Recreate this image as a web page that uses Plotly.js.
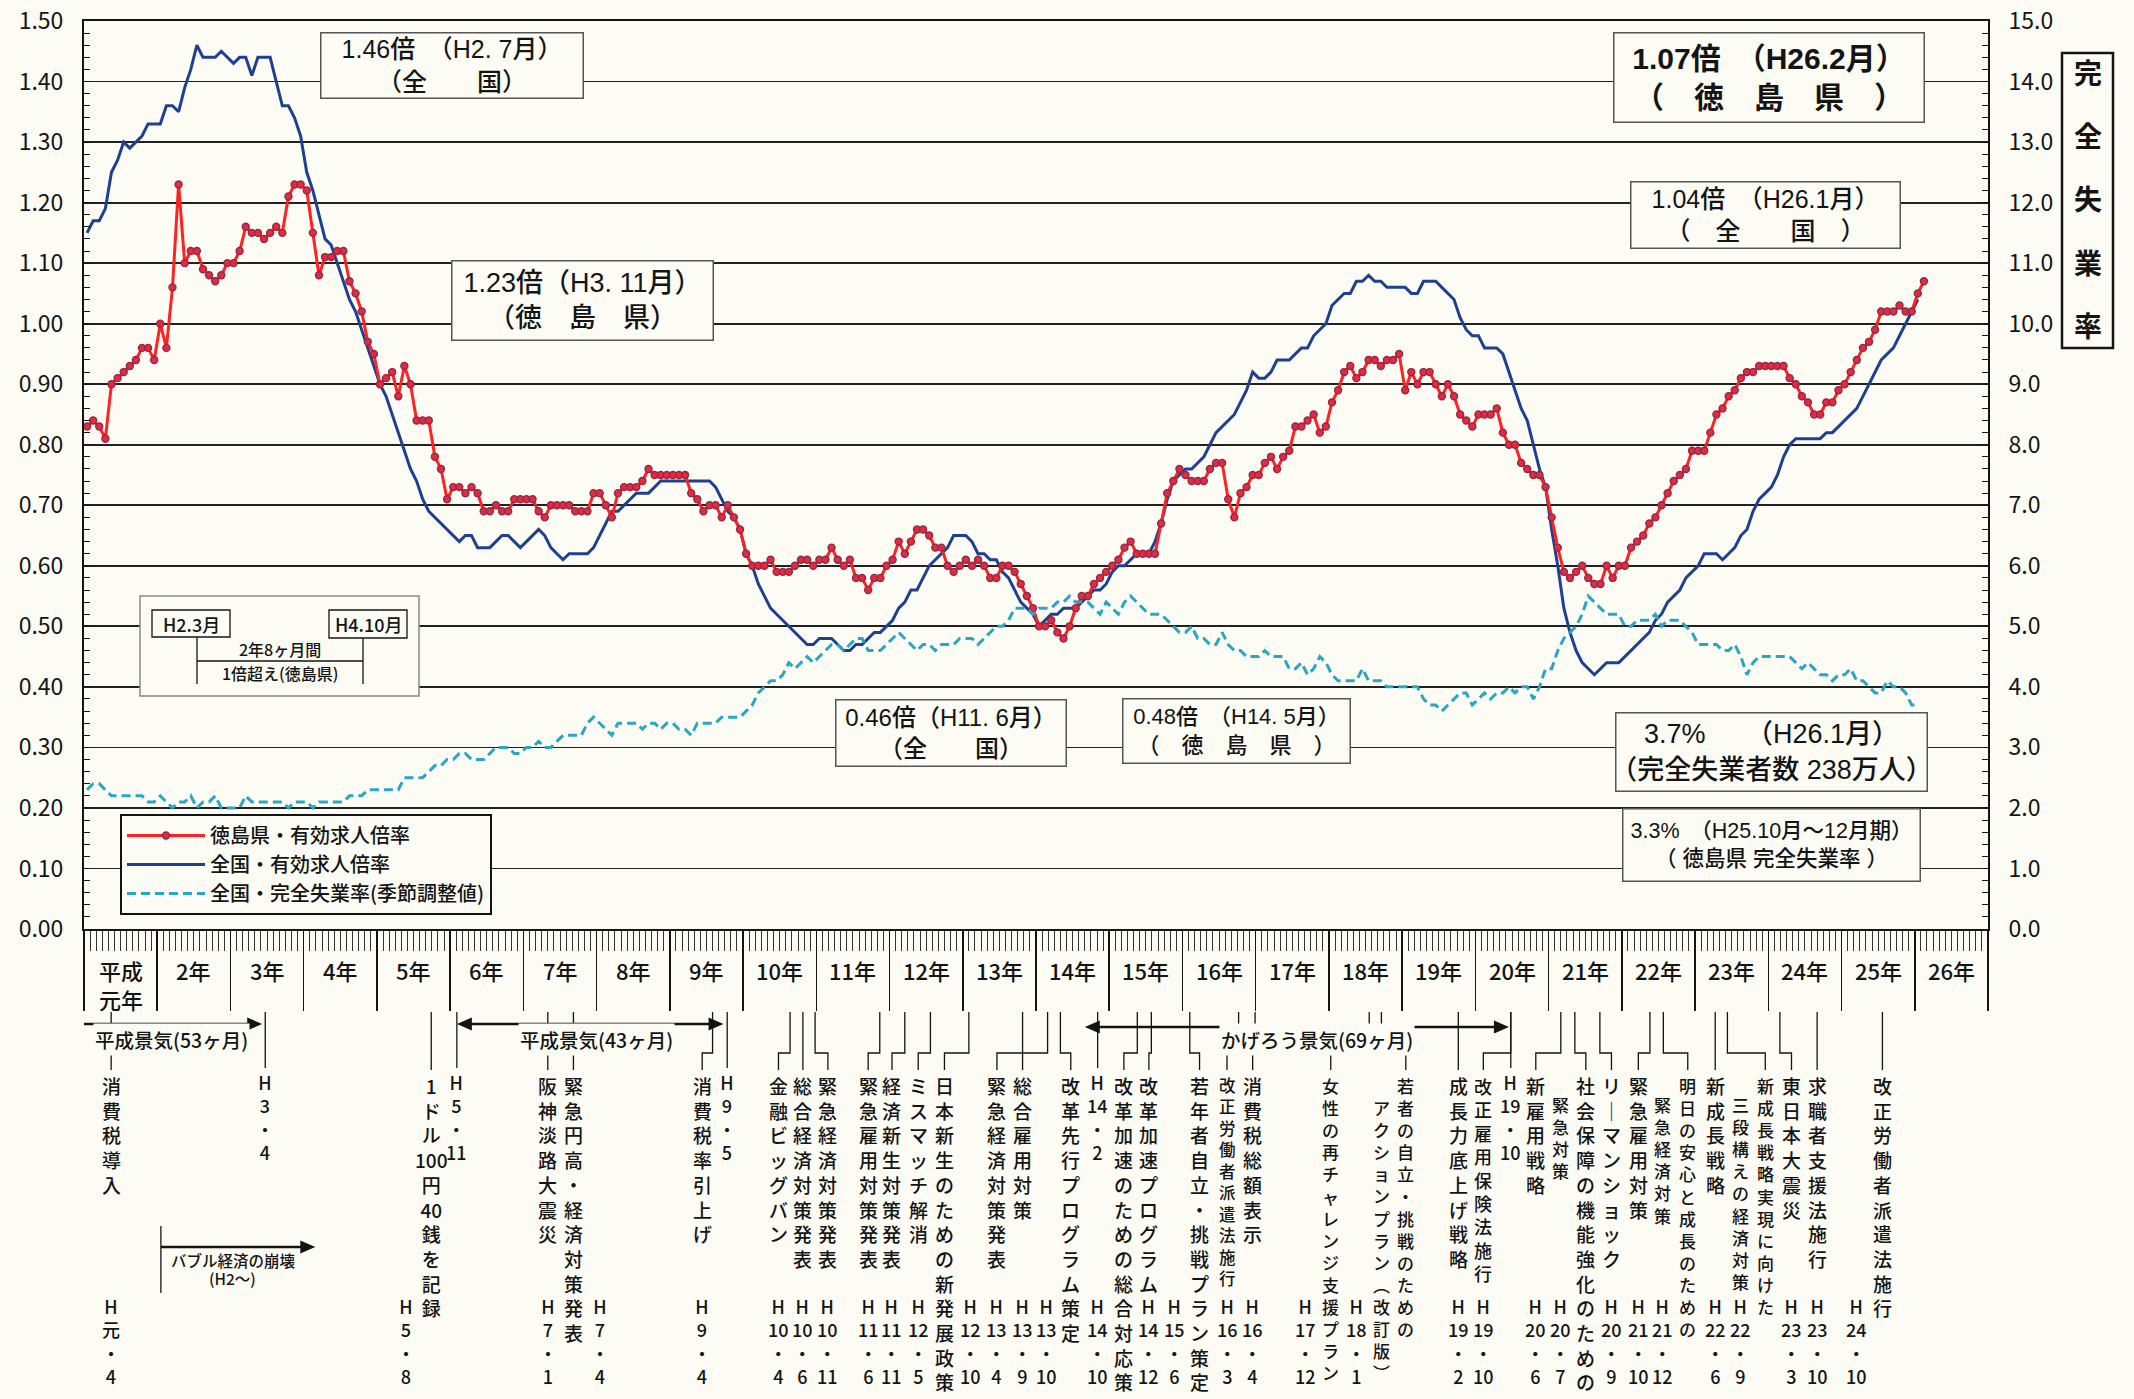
<!DOCTYPE html>
<html><head><meta charset="utf-8">
<script src="https://cdn.plot.ly/plotly-3.0.1.min.js"></script>
<style>html,body{margin:0;padding:0;background:#fcfcf4;}#chart{width:2134px;height:1399px;}</style>
</head><body><div id="chart"></div>
<script>
// ================= DATA =================
const yearLabels = ['平成<br>元年','2年','3年','4年','5年','6年','7年','8年','9年','10年','11年','12年','13年',
  '14年','15年','16年','17年','18年','19年','20年','21年','22年','23年','24年','25年','26年'];

const seriesNames = ['徳島県・有効求人倍率','全国・有効求人倍率','全国・完全失業率(季節調整値)'];

// 徳島県・有効求人倍率 (H1.1 - H26.2), monthly
const tokushimaRatio = [
  0.83,0.84,0.83,0.81,0.90,0.91,0.92,0.93,0.94,0.96,0.96,0.94, // H1
  1.00,0.96,1.06,1.23,1.10,1.12,1.12,1.09,1.08,1.07,1.08,1.10, // H2
  1.10,1.12,1.16,1.15,1.15,1.14,1.15,1.16,1.15,1.21,1.23,1.23, // H3
  1.22,1.15,1.08,1.11,1.11,1.12,1.12,1.07,1.05,1.02,0.97,0.95, // H4
  0.90,0.91,0.92,0.88,0.93,0.90,0.84,0.84,0.84,0.78,0.76,0.71, // H5
  0.73,0.73,0.72,0.73,0.72,0.69,0.69,0.70,0.69,0.69,0.71,0.71, // H6
  0.71,0.71,0.69,0.68,0.70,0.70,0.70,0.70,0.69,0.69,0.69,0.72, // H7
  0.72,0.70,0.68,0.72,0.73,0.73,0.73,0.74,0.76,0.75,0.75,0.75, // H8
  0.75,0.75,0.75,0.72,0.71,0.69,0.70,0.70,0.68,0.70,0.68,0.66, // H9
  0.62,0.60,0.60,0.60,0.61,0.59,0.59,0.59,0.60,0.61,0.61,0.60, // H10
  0.61,0.61,0.63,0.61,0.60,0.61,0.58,0.58,0.56,0.58,0.58,0.60, // H11
  0.61,0.64,0.62,0.64,0.66,0.66,0.65,0.63,0.63,0.60,0.59,0.60, // H12
  0.61,0.60,0.61,0.60,0.58,0.58,0.60,0.60,0.59,0.57,0.55,0.53, // H13
  0.50,0.50,0.51,0.49,0.48,0.50,0.53,0.55,0.55,0.57,0.58,0.59, // H14
  0.60,0.61,0.63,0.64,0.62,0.62,0.62,0.62,0.67,0.72,0.74,0.76, // H15
  0.75,0.74,0.74,0.74,0.76,0.77,0.77,0.71,0.68,0.72,0.73,0.75, // H16
  0.75,0.77,0.78,0.76,0.78,0.79,0.83,0.83,0.84,0.85,0.82,0.83, // H17
  0.87,0.89,0.92,0.93,0.91,0.92,0.94,0.94,0.93,0.94,0.94,0.95, // H18
  0.89,0.92,0.90,0.92,0.92,0.90,0.88,0.90,0.88,0.85,0.84,0.83, // H19
  0.85,0.85,0.85,0.86,0.82,0.80,0.80,0.77,0.76,0.75,0.75,0.73, // H20
  0.68,0.63,0.59,0.58,0.59,0.60,0.58,0.57,0.57,0.60,0.58,0.60, // H21
  0.60,0.63,0.64,0.65,0.67,0.68,0.70,0.72,0.74,0.75,0.76,0.79, // H22
  0.79,0.79,0.82,0.85,0.86,0.88,0.89,0.91,0.92,0.92,0.93,0.93, // H23
  0.93,0.93,0.93,0.91,0.90,0.88,0.87,0.85,0.85,0.87,0.87,0.89, // H24
  0.90,0.92,0.94,0.96,0.97,0.99,1.02,1.02,1.02,1.03,1.02,1.02, // H25
  1.05,1.07                                                    // H26
];

// 全国・有効求人倍率 (H1.1 - H26.1)
const nationalRatio = [
  1.15,1.17,1.17,1.19,1.25,1.27,1.30,1.29,1.30,1.31,1.33,1.33, // H1
  1.33,1.36,1.36,1.35,1.39,1.42,1.46,1.44,1.44,1.44,1.45,1.44, // H2
  1.43,1.44,1.44,1.41,1.44,1.44,1.44,1.40,1.36,1.36,1.34,1.31, // H3
  1.25,1.22,1.18,1.14,1.13,1.10,1.07,1.04,1.02,0.99,0.96,0.93, // H4
  0.90,0.88,0.85,0.82,0.79,0.76,0.74,0.71,0.69,0.68,0.67,0.66, // H5
  0.65,0.64,0.65,0.65,0.63,0.63,0.63,0.64,0.65,0.65,0.64,0.63, // H6
  0.64,0.65,0.66,0.65,0.63,0.62,0.61,0.62,0.62,0.62,0.62,0.63, // H7
  0.65,0.67,0.69,0.69,0.70,0.71,0.72,0.72,0.72,0.73,0.74,0.74, // H8
  0.74,0.74,0.74,0.74,0.74,0.74,0.74,0.73,0.71,0.69,0.68,0.66, // H9
  0.62,0.60,0.57,0.55,0.53,0.52,0.51,0.50,0.49,0.48,0.47,0.47, // H10
  0.48,0.48,0.48,0.47,0.46,0.46,0.47,0.47,0.48,0.49,0.49,0.50, // H11
  0.51,0.53,0.54,0.56,0.56,0.58,0.60,0.61,0.62,0.63,0.65,0.65, // H12
  0.65,0.64,0.62,0.62,0.61,0.61,0.59,0.58,0.56,0.54,0.53,0.52, // H13
  0.50,0.51,0.52,0.52,0.53,0.53,0.53,0.54,0.55,0.56,0.56,0.57, // H14
  0.59,0.60,0.60,0.61,0.62,0.62,0.62,0.64,0.67,0.71,0.74,0.75, // H15
  0.76,0.76,0.77,0.78,0.80,0.82,0.83,0.84,0.85,0.87,0.89,0.92, // H16
  0.91,0.91,0.92,0.94,0.94,0.94,0.95,0.96,0.96,0.98,0.99,1.00, // H17
  1.03,1.04,1.05,1.05,1.07,1.07,1.08,1.07,1.07,1.06,1.06,1.06, // H18
  1.06,1.05,1.05,1.07,1.07,1.07,1.06,1.05,1.04,1.01,0.99,0.98, // H19
  0.98,0.96,0.96,0.96,0.95,0.92,0.89,0.86,0.84,0.80,0.76,0.73, // H20
  0.66,0.60,0.53,0.49,0.46,0.44,0.43,0.42,0.43,0.44,0.44,0.44, // H21
  0.45,0.46,0.47,0.48,0.49,0.51,0.52,0.54,0.55,0.56,0.58,0.59, // H22
  0.60,0.62,0.62,0.62,0.61,0.62,0.63,0.65,0.66,0.69,0.71,0.72, // H23
  0.73,0.75,0.78,0.80,0.81,0.81,0.81,0.81,0.81,0.82,0.82,0.83, // H24
  0.84,0.85,0.86,0.88,0.90,0.92,0.94,0.95,0.96,0.98,1.00,1.02, // H25
  1.04                                                         // H26
];

// 全国・完全失業率（季節調整値, %）(H1.1 - H26.1)
const nationalUnemployment = [
  2.3,2.4,2.4,2.3,2.2,2.2,2.2,2.2,2.2,2.2,2.1,2.1, // H1
  2.2,2.1,2.0,2.1,2.1,2.2,2.0,2.1,2.1,2.2,2.0,2.0, // H2
  2.0,2.0,2.2,2.1,2.1,2.1,2.1,2.1,2.1,2.0,2.1,2.1, // H3
  2.1,2.0,2.1,2.1,2.1,2.1,2.1,2.2,2.2,2.2,2.3,2.3, // H4
  2.3,2.3,2.3,2.3,2.5,2.5,2.5,2.5,2.6,2.7,2.7,2.8, // H5
  2.8,2.9,2.9,2.8,2.8,2.8,2.9,3.0,3.0,3.0,2.9,2.9, // H6
  3.0,3.0,3.1,3.0,3.0,3.1,3.2,3.2,3.2,3.2,3.4,3.5, // H7
  3.4,3.3,3.2,3.4,3.4,3.4,3.4,3.3,3.4,3.4,3.3,3.4, // H8
  3.4,3.3,3.3,3.2,3.4,3.4,3.4,3.4,3.5,3.5,3.5,3.5, // H9
  3.6,3.7,3.9,4.0,4.1,4.1,4.2,4.4,4.3,4.4,4.5,4.4, // H10
  4.5,4.6,4.7,4.7,4.6,4.7,4.8,4.8,4.6,4.6,4.6,4.7, // H11
  4.8,4.9,4.8,4.7,4.6,4.7,4.7,4.6,4.7,4.7,4.7,4.8, // H12
  4.8,4.8,4.7,4.8,4.9,5.0,5.0,5.1,5.3,5.3,5.3,5.2, // H13
  5.3,5.3,5.3,5.4,5.4,5.5,5.4,5.4,5.4,5.3,5.2,5.4, // H14
  5.3,5.2,5.4,5.5,5.4,5.3,5.2,5.2,5.2,5.1,5.0,4.9, // H15
  4.9,5.0,4.8,4.8,4.7,4.7,4.9,4.7,4.6,4.6,4.5,4.5, // H16
  4.5,4.6,4.5,4.5,4.5,4.3,4.3,4.4,4.2,4.3,4.5,4.4, // H17
  4.2,4.1,4.1,4.1,4.1,4.3,4.1,4.1,4.1,4.0,4.0,4.0, // H18
  4.0,4.0,4.0,3.8,3.7,3.7,3.6,3.7,3.8,3.9,3.9,3.7, // H19
  3.8,3.9,3.8,3.9,3.9,4.0,3.9,4.0,4.0,3.8,4.0,4.3, // H20
  4.3,4.6,4.8,4.9,5.0,5.2,5.5,5.4,5.3,5.2,5.2,5.2, // H21
  5.0,5.0,5.1,5.1,5.1,5.2,5.0,5.1,5.1,5.1,5.0,4.9, // H22
  4.7,4.7,4.7,4.7,4.6,4.6,4.7,4.5,4.2,4.4,4.5,4.5, // H23
  4.5,4.5,4.5,4.5,4.4,4.3,4.4,4.3,4.2,4.2,4.1,4.2, // H24
  4.2,4.3,4.1,4.1,4.0,3.9,3.9,4.1,4.0,4.0,3.9,3.7, // H25
  3.7                                              // H26
];

const calloutTexts = [
  '1.46倍　（H2. 7月）<br>（全　　国）',
  '1.23倍（H3. 11月）<br>（徳　島　県）',
  '1.07倍　（H26.2月）<br>（　徳　島　県　）',
  '1.04倍　（H26.1月）<br>（　全　　国　）',
  '0.46倍（H11. 6月）<br>（全　　国）',
  '0.48倍　（H14. 5月）<br>（　徳　島　県　）',
  '3.7%　　（H26.1月）<br>（完全失業者数 238万人）',
  '3.3%　（H25.10月～12月期）<br>（ 徳島県 完全失業率 ）'
];
const periodTexts = ['H2.3月','H4.10月','2年8ヶ月間','1倍超え(徳島県)'];
const rightAxisTitle = '完全失業率';
const cycleNames = ['平成景気(53ヶ月)','平成景気(43ヶ月)','かげろう景気(69ヶ月)'];
const cycleTurns = ['H3・4','H5・11','H9・5','H14・2','H19・10'];
const bubbleTexts = ['バブル経済の崩壊','(H2〜)'];
const eventTexts = [
  '消費税導入','1ドル100円40銭を記録','阪神淡路大震災','緊急円高・経済対策発表','消費税率引上げ',
  '金融ビッグバン','総合経済対策発表','緊急経済対策発表','緊急雇用対策発表','経済新生対策発表',
  'ミスマッチ解消','日本新生のための新発展政策','緊急経済対策発表','総合雇用対策','改革先行プログラム策定',
  '改革加速のための総合対応策','改革加速プログラム','若年者自立・挑戦プラン策定','改正労働者派遣法施行','消費税総額表示',
  '女性の再チャレンジ支援プラン','若者の自立・挑戦のための','アクションプラン（改訂版）','成長力底上げ戦略','改正雇用保険法施行',
  '新雇用戦略','緊急対策','社会保障の機能強化のための','リーマンショック','緊急雇用対策',
  '緊急経済対策','明日の安心と成長のための','新成長戦略','三段構えの経済対策','新成長戦略実現に向けた',
  '東日本大震災','求職者支援法施行','改正労働者派遣法施行'
];
const eventDates = ['H元・4','H5・8','H7・1','H7・4','H9・4','H10・4','H10・6','H10・11','H11・6','H11・11',
  'H12・5','H12・10','H13・4','H13・9','H13・10','H14・10','H14・12','H15・6','H16・3','H16・4',
  'H17・12','H18・1','H19・2','H19・10','H20・6','H20・7','H20・9','H21・10','H21・12','H22・6',
  'H22・9','H23・3','H23・10','H24・10'];

// ================= LAYOUT / STYLE =================
const INK = '#141414', BG = '#fcfcf4';
const JP = "'Noto Sans CJK JP', 'Noto Sans', sans-serif";
const NARROW = "'Liberation Sans Narrow', 'Arial Narrow', 'Noto Sans CJK JP', sans-serif";
const BOXF = "'Liberation Sans', 'Noto Sans CJK JP', sans-serif";
const L = 84, R = 1988, T = 21, B = 929, W = 2134, H = 1399;
const px = X => (X - L) / (R - L);
const py = Y => (B - Y) / (B - T);
const MPX = (R - L) / 312; // pixels per month

const monthX = arr => arr.map((_, i) => i + 0.5);
const vert = s => (s.match(/[0-9]+|./gu) || []).map(t => t === 'ー' ? '｜' : t === '（' ? '︵' : t === '）' ? '︶' : t).join('<br>');

// column positions (month units from H1.1 left edge)
const eventCol = [4.45,56.9,76.0,80.2,101.3,113.8,117.8,121.9,128.5,132.4,136.7,141.0,149.6,153.8,161.7,
  170.4,174.5,182.8,187.3,191.5,204.3,216.6,212.6,225.2,229.3,237.9,242.0,246.1,250.3,254.7,258.6,262.8,
  267.3,271.4,275.5,279.8,284.0,294.7];
const eventConn = [4.45,56.9,76.0,80.2,103.0,115.7,117.8,119.8,130.4,134.5,138.7,145.0,153.8,157.9,160.0,
  172.6,174.9,181.2,189.2,191.9,210.6,212.6,null,225.2,233.8,242.0,null,244.3,248.4,256.6,null,258.8,
  267.3,null,269.3,277.9,284.0,294.7];
const compactIdx = [20,21,31,34], tightIdx = [18,24], smallIdx = [22,26,30,33];
const dateCol = [4.45,52.8,76.0,84.5,101.3,113.8,117.8,121.9,128.5,132.4,136.7,145.3,149.6,153.8,157.8,
  166.1,174.5,178.7,187.3,191.5,200.2,208.5,225.2,229.3,237.9,242.0,250.3,254.7,258.6,267.3,271.4,
  279.8,284.0,290.4];
const turnCol = [29.7,61.1,105.4,166.1,233.8];
const cycleArrows = [[0,29.2,false,1024],[61.1,104.8,true,1024],[164.0,233.5,true,1027]];
const cycleLabelX = [14.3,83.9,202.0];

const ann = [], shapes = [];

// year labels
yearLabels.forEach((t, k) => ann.push({xref:'x', yref:'paper', x:k*12+6, y:py(k === 0 ? 984 : 970),
  text:t, showarrow:false, yanchor:'middle', font:{family:NARROW, size:22, color:INK, weight:500}}));

// callout boxes
const boxes = [[320,32,583,98,25,false],[451,261,713,341,27,false],[1613,33,1924,123,30,true],
  [1630,182,1900,249,25,false],[835,699,1066,766,24,false],[1122,698,1350,763,22,false],
  [1615,712,1927,791,27,false],[1622,808,1920,881,21.5,false]];
boxes.forEach((b, i) => ann.push({xref:'paper', yref:'paper', x:px((b[0]+b[2])/2), y:py((b[1]+b[3])/2),
  xanchor:'center', yanchor:'middle', width:b[2]-b[0]-6, height:b[3]-b[1]-6, borderpad:2,
  borderwidth:1.5, bordercolor:'#555', bgcolor:BG, showarrow:false, text:calloutTexts[i],
  font:{family:BOXF, size:b[4], color:INK, weight:b[5] ? 700 : 500}}));

// period box (H2.3 - H4.10)
const rectPx = (x0,y0,x1,y1,extra) => Object.assign({type:'rect', xref:'paper', yref:'paper',
  x0:px(x0), x1:px(x1), y0:py(y1), y1:py(y0), layer:'above'}, extra);
const linePx = (x0,y0,x1,y1,w) => ({type:'line', xref:'paper', yref:'paper', x0:px(x0), x1:px(x1),
  y0:py(y0), y1:py(y1), line:{color:INK, width:w||1.3}, layer:'above'});
shapes.push(rectPx(140,596,419,696,{fillcolor:BG, line:{color:'#888', width:1.5}}));
shapes.push(rectPx(152,610,230,637,{fillcolor:BG, line:{color:INK, width:1.3}}));
shapes.push(rectPx(329,610,407,638,{fillcolor:BG, line:{color:INK, width:1.3}}));
shapes.push(linePx(197,637,197,684), linePx(363,638,363,684), linePx(197,661,363,661));
[[191,624,18],[368,624,18],[280,649,16],[280,673,16]].forEach((p, i) => ann.push({xref:'paper', yref:'paper',
  x:px(p[0]), y:py(p[1]), text:periodTexts[i], showarrow:false, xanchor:'center', yanchor:'middle',
  font:{family:NARROW, size:p[2], color:INK, weight:500}}));

// right axis title
shapes.push(rectPx(2062,53,2113,348,{line:{color:INK, width:2.5}}));
Array.from(rightAxisTitle).forEach((c, k) => ann.push({xref:'paper', yref:'paper', x:px(2088),
  y:py(72 + k*63.2), text:c, showarrow:false, xanchor:'center', yanchor:'middle',
  font:{family:JP, size:28, color:INK, weight:700}}));

// arrows helper (x in months, Y in px)
const hl = 15 / MPX;
const head = (tip, Y, dir) => ({type:'path', xref:'x', yref:'paper', fillcolor:INK, line:{width:0},
  path:`M${tip},${py(Y)}L${tip - dir*hl},${py(Y-6.5)}L${tip - dir*hl},${py(Y+6.5)}Z`});
const hline = (x0, x1, Y, w) => ({type:'line', xref:'x', yref:'paper', x0, x1, y0:py(Y), y1:py(Y),
  line:{color:INK, width:w||2.5}});
cycleArrows.forEach(a => {
  shapes.push(hline(a[2] ? a[0] + hl*0.5 : a[0], a[1] - hl*0.5, a[3]));
  shapes.push(head(a[1], a[3], 1));
  if (a[2]) shapes.push(head(a[0], a[3], -1));
});
cycleNames.forEach((t, i) => ann.push({xref:'x', yref:'paper', x:cycleLabelX[i], y:py(1039), text:t,
  showarrow:false, xanchor:'center', yanchor:'middle', bgcolor:BG, borderpad:1,
  font:{family:NARROW, size:19.5, color:INK, weight:500}}));

// bubble collapse arrow
shapes.push({type:'line', xref:'x', yref:'paper', x0:12.6, x1:12.6, y0:py(1226), y1:py(1293), line:{color:INK, width:1.3}});
shapes.push(hline(12.6, 37.9 - hl*0.5, 1247, 2.5), head(37.9, 1247, 1));
ann.push({xref:'x', yref:'paper', x:24.5, y:py(1273), text:bubbleTexts[0], showarrow:false,
  font:{family:NARROW, size:15.5, color:INK, weight:500}});
ann.push({xref:'x', yref:'paper', x:24.3, y:py(1291), text:bubbleTexts[1], showarrow:false,
  font:{family:NARROW, size:15.5, color:INK, weight:500}});

// event columns + connectors
eventTexts.forEach((t, i) => {
  let size = 19, top = 1071;
  if (compactIdx.includes(i)) { size = 17; top = 1072; }
  if (tightIdx.includes(i)) { size = i === 18 ? 16.5 : 18; top = 1072; }
  if (smallIdx.includes(i)) { size = 17; top = (i === 22) ? 1094 : 1091; }
  ann.push({xref:'x', yref:'paper', x:eventCol[i], y:py(top), xanchor:'center', yanchor:'top',
    text:vert(t), showarrow:false, borderpad:0, font:{family:NARROW, size, color:INK, weight:500}});
  const c = eventConn[i];
  if (c === null) return;
  const x = eventCol[i];
  const path = Math.abs(c - x) < 0.3
    ? `M${x},${py(1012)}L${x},${py(1070)}`
    : `M${c},${py(1012)}L${c},${py(1053)}L${x},${py(1053)}L${x},${py(1070)}`;
  shapes.push({type:'path', xref:'x', yref:'paper', path, line:{color:INK, width:1.3}});
});
eventDates.forEach((d, i) => ann.push({xref:'x', yref:'paper', x:dateCol[i], y:py(1292), xanchor:'center',
  yanchor:'top', text:vert(d), showarrow:false, borderpad:0, font:{family:NARROW, size:18, color:INK, weight:500}}));
cycleTurns.forEach((d, i) => {
  ann.push({xref:'x', yref:'paper', x:turnCol[i], y:py(1068), xanchor:'center', yanchor:'top',
    text:vert(d), showarrow:false, borderpad:0, font:{family:NARROW, size:18, color:INK, weight:500}});
  shapes.push({type:'line', xref:'x', yref:'paper', x0:turnCol[i], x1:turnCol[i], y0:py(1012), y1:py(1068),
    line:{color:INK, width:1.3}});
});

// ================= TRACES =================
const traces = [
  {x:monthX(nationalUnemployment), y:nationalUnemployment, yaxis:'y2', type:'scatter', mode:'lines',
   name:seriesNames[2], legendrank:3, line:{color:'#2aa6c2', width:3, dash:'9px,5px'}},
  {x:monthX(nationalRatio), y:nationalRatio, type:'scatter', mode:'lines', name:seriesNames[1],
   legendrank:2, line:{color:'#1f408f', width:3}},
  {x:monthX(tokushimaRatio), y:tokushimaRatio, type:'scatter', mode:'lines+markers', name:seriesNames[0],
   legendrank:1, line:{color:'#ff2222', width:3},
   marker:{symbol:'circle', size:7, color:'#e8283c', line:{color:'#8e2a4a', width:1.4}}}
];

const tickFont = {family:NARROW, size:23, color:INK};
const layout = {
  width:W, height:H, margin:{l:L, r:W-R, t:T, b:H-B, pad:0},
  paper_bgcolor:BG, plot_bgcolor:BG, hovermode:false, showlegend:true,
  font:{family:JP, color:INK},
  xaxis:{range:[0,312], tickmode:'linear', tick0:0, dtick:12, ticks:'outside', ticklen:80, tickwidth:1.5,
    tickcolor:INK, showticklabels:false, showgrid:false, zeroline:false, showline:true, linewidth:2,
    linecolor:INK, mirror:true, fixedrange:true,
    minor:{tick0:0, dtick:1, ticks:'outside', ticklen:20, tickwidth:1, tickcolor:'#333', showgrid:false}},
  yaxis:{range:[0,1.5], tickmode:'linear', tick0:0, dtick:0.1, tickformat:'.2f', showgrid:true,
    gridcolor:'#222', gridwidth:1.8, zeroline:false, showline:true, linewidth:2, linecolor:INK,
    ticks:'inside', ticklen:7, tickcolor:INK, tickfont:tickFont, ticklabelstandoff:14, fixedrange:true,
    minor:{dtick:0.02, ticks:'inside', ticklen:6, tickcolor:INK, showgrid:false}},
  yaxis2:{range:[0,15], overlaying:'y', side:'right', anchor:'x', tickmode:'linear', tick0:0, dtick:1,
    tickformat:'.1f', showgrid:false, zeroline:false, showline:true, linewidth:2, linecolor:INK,
    ticks:'inside', ticklen:7, tickcolor:INK, tickfont:tickFont, ticklabelstandoff:14, fixedrange:true,
    minor:{dtick:0.2, ticks:'inside', ticklen:6, tickcolor:INK}},
  legend:{x:px(120), y:py(814), xanchor:'left', yanchor:'top', bgcolor:BG, bordercolor:INK, borderwidth:2,
    font:{family:JP, size:20, color:INK, weight:500}, traceorder:'normal', itemwidth:78},
  annotations:ann, shapes:shapes
};

Plotly.newPlot('chart', traces, layout, {displayModeBar:false, staticPlot:true});
</script></body></html>
